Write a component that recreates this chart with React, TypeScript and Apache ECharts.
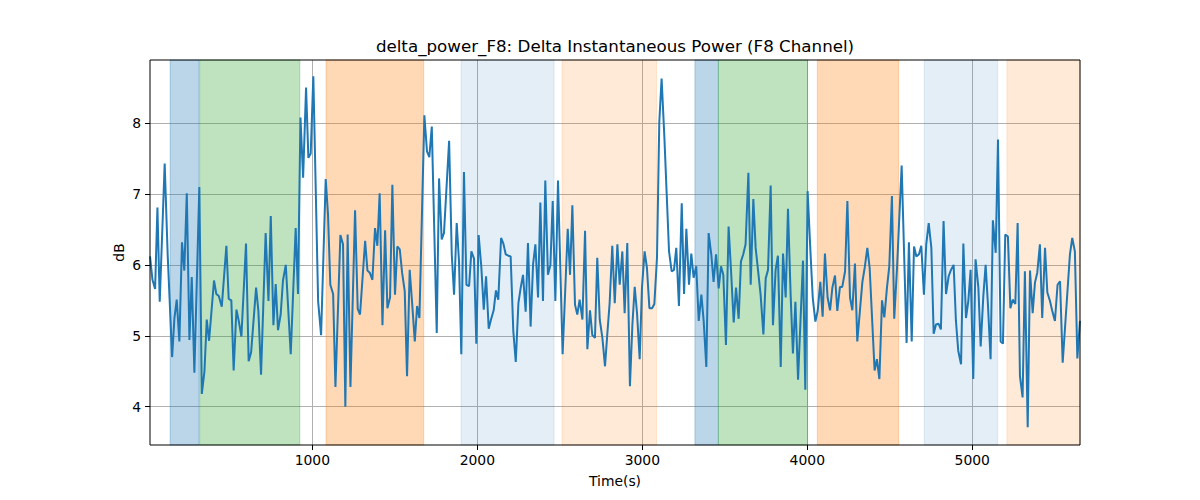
import React, { useEffect, useRef } from "react";
import * as echarts from "echarts";

const times = [
  16, 31, 47, 61, 75, 105, 123, 150, 164, 178, 194, 210, 224, 239, 255, 269, 285, 315, 330, 346, 360, 374,
  404, 418, 433, 451, 479, 493, 509, 523, 540, 554, 570, 598, 614, 629, 659, 673, 689, 717, 734, 748, 764,
  778, 792, 808, 822, 839, 869, 899, 913, 928, 944, 962, 976, 990, 1006, 1035, 1053, 1081, 1095, 1109, 1126,
  1140, 1170, 1186, 1200, 1214, 1231, 1259, 1275, 1289, 1320, 1334, 1348, 1364, 1380, 1394, 1408, 1425, 1441,
  1455, 1471, 1485, 1501, 1515, 1530, 1544, 1560, 1574, 1590, 1604, 1621, 1635, 1649, 1679, 1695, 1709, 1724,
  1754, 1768, 1784, 1798, 1829, 1845, 1859, 1875, 1889, 1903, 1919, 1934, 1950, 1964, 1980, 1994, 2008, 2024,
  2039, 2053, 2069, 2083, 2099, 2113, 2127, 2144, 2158, 2172, 2188, 2202, 2218, 2233, 2249, 2263, 2277, 2293,
  2307, 2323, 2338, 2352, 2368, 2382, 2398, 2412, 2428, 2443, 2457, 2473, 2489, 2503, 2517, 2548, 2562, 2576,
  2592, 2606, 2620, 2637, 2653, 2667, 2683, 2697, 2713, 2727, 2742, 2758, 2774, 2788, 2802, 2818, 2833, 2849,
  2863, 2879, 2893, 2909, 2925, 2940, 2954, 2968, 2984, 2998, 3014, 3028, 3043, 3059, 3073, 3089, 3103, 3117,
  3134, 3148, 3162, 3178, 3192, 3206, 3222, 3239, 3253, 3267, 3283, 3297, 3311, 3327, 3342, 3358, 3372, 3388,
  3402, 3418, 3432, 3447, 3463, 3477, 3491, 3507, 3523, 3538, 3554, 3568, 3584, 3598, 3612, 3626, 3643, 3657,
  3673, 3687, 3703, 3717, 3734, 3748, 3762, 3778, 3792, 3808, 3822, 3839, 3853, 3869, 3883, 3899, 3913, 3928,
  3944, 3974, 3988, 4002, 4018, 4033, 4049, 4063, 4079, 4093, 4107, 4123, 4138, 4152, 4168, 4182, 4198, 4212,
  4229, 4243, 4259, 4273, 4289, 4303, 4317, 4334, 4348, 4364, 4378, 4408, 4422, 4437, 4453, 4467, 4483, 4497,
  4513, 4527, 4544, 4572, 4602, 4616, 4633, 4647, 4661, 4677, 4691, 4707, 4721, 4736, 4752, 4766, 4780, 4796,
  4810, 4826, 4841, 4857, 4871, 4887, 4901, 4915, 4932, 4946, 4962, 4976, 4990, 5006, 5020, 5037, 5051, 5067,
  5081, 5095, 5111, 5125, 5142, 5156, 5172, 5186, 5200, 5216, 5231, 5245, 5261, 5275, 5289, 5305, 5319, 5336,
  5350, 5366, 5380, 5394, 5410, 5424, 5441, 5455, 5471, 5485, 5501, 5517, 5532, 5548, 5592, 5606, 5622, 5637,
  5653,
];

const values = [
  6.12, 5.79, 5.66, 6.81, 5.48, 7.43, 6.15, 4.7, 5.25, 5.51, 4.92, 6.32, 5.92, 7.01, 4.94, 5.83, 4.48, 7.1, 4.18,
  4.5, 5.23, 4.93, 5.78, 5.59, 5.56, 5.41, 6.27, 5.52, 5.5, 4.51, 5.37, 5.21, 4.99, 6.3, 4.64, 4.77, 5.68, 5.35,
  4.45, 6.45, 5.49, 6.69, 5.15, 5.73, 5.08, 5.3, 5.78, 6.0, 4.74, 6.52, 5.59, 8.08, 7.23, 8.5, 7.51, 7.57, 8.66,
  5.49, 5.01, 7.21, 6.71, 5.72, 5.59, 4.28, 6.42, 6.29, 4.0, 6.43, 4.28, 6.77, 5.38, 5.3, 6.34, 5.92, 5.89, 5.79,
  6.52, 6.27, 7.01, 5.15, 6.49, 5.39, 5.54, 7.13, 5.58, 6.26, 6.22, 5.89, 5.63, 4.43, 5.93, 5.49, 4.92, 5.42,
  5.25, 8.11, 7.6, 7.52, 7.95, 5.04, 7.22, 6.36, 6.45, 7.75, 6.15, 5.58, 6.59, 6.05, 4.74, 7.31, 5.72, 5.7, 6.19,
  6.09, 4.89, 6.42, 5.98, 5.37, 5.84, 5.1, 5.23, 5.36, 5.64, 5.51, 6.38, 6.3, 6.15, 6.13, 6.12, 5.07, 4.63, 5.46,
  5.68, 5.86, 5.34, 6.31, 5.13, 6.01, 6.29, 5.54, 6.88, 5.49, 7.19, 5.86, 6.0, 6.9, 5.49, 7.19, 5.96, 4.74, 6.51,
  5.86, 6.84, 5.44, 5.3, 5.51, 5.23, 6.48, 4.81, 5.36, 5.01, 4.97, 6.1, 5.23, 4.97, 4.57, 5.03, 5.46, 6.27, 5.46,
  6.29, 5.72, 6.19, 5.32, 6.31, 4.29, 5.16, 5.69, 5.32, 4.67, 5.68, 6.19, 5.96, 5.39, 5.39, 5.45, 6.1, 8.02, 8.63,
  7.79, 6.99, 6.19, 5.91, 5.93, 6.24, 5.42, 6.87, 5.59, 6.51, 5.72, 6.16, 5.82, 5.98, 5.21, 5.58, 5.21, 4.56,
  6.45, 6.15, 5.76, 6.15, 5.67, 5.98, 5.86, 4.87, 6.54, 5.91, 5.19, 5.68, 5.24, 6.05, 6.15, 6.29, 7.3, 5.72, 6.93,
  6.24, 5.89, 5.58, 5.02, 5.81, 5.93, 7.12, 5.15, 5.93, 6.13, 4.56, 6.16, 5.54, 6.79, 5.58, 4.75, 5.48, 4.38,
  6.06, 4.24, 7.04, 6.24, 5.54, 5.2, 5.35, 5.76, 5.27, 6.16, 5.54, 5.36, 5.68, 5.85, 5.35, 5.69, 5.69, 5.91, 6.9,
  5.54, 5.36, 6.02, 4.92, 5.3, 5.76, 5.96, 6.24, 5.96, 4.51, 4.67, 4.39, 5.5, 5.26, 5.68, 5.98, 6.97, 5.24, 5.96,
  7.4, 4.9, 6.32, 4.92, 6.26, 6.12, 6.15, 6.27, 5.58, 6.29, 6.59, 6.24, 5.03, 5.16, 5.17, 5.09, 6.62, 5.59, 5.84,
  5.93, 6.0, 5.21, 4.79, 4.6, 6.3, 5.25, 5.49, 5.93, 4.39, 6.08, 5.68, 4.85, 5.56, 6.0, 5.44, 4.67, 6.63, 6.17,
  7.77, 4.92, 4.89, 6.43, 6.4, 5.39, 5.51, 5.45, 6.59, 4.43, 4.13, 5.91, 3.71, 5.92, 5.32, 5.75, 5.89, 6.29, 5.25,
  6.24, 5.61, 5.49, 5.35, 5.21, 5.72, 5.77, 4.62, 6.15, 6.38, 6.19, 4.68, 5.21,
];

const spanStarts = [138, 317, 1083, 1901, 2514, 3319, 3461, 4061, 4709, 5210];
const spanEnds = [313, 924, 1675, 2465, 3087, 3461, 4002, 4554, 5154, 5653];
const spanKinds = ["blue", "green", "orange", "paleBlue", "paleOrange", "blue", "green", "orange", "paleBlue", "paleOrange"];

const xTicks = [1000, 2000, 3000, 4000, 5000];
const yTicks = [4, 5, 6, 7, 8];

const X_MIN = 16;
const X_MAX = 5653;
const Y_MIN = 3.46;
const Y_MAX = 8.89;

const TITLE = "delta_power_F8: Delta Instantaneous Power (F8 Channel)";
const X_NAME = "Time(s)";
const Y_NAME = "dB";

const kindColor: Record<string, string> = {
  blue: "rgba(31,119,180,0.3)",
  green: "rgba(44,160,44,0.3)",
  orange: "rgba(255,127,14,0.3)",
  paleBlue: "rgba(31,119,180,0.12)",
  paleOrange: "rgba(255,127,14,0.16)",
};

const FONT = "DejaVu Sans";

export default function App() {
  const ref = useRef<HTMLDivElement>(null);
  useEffect(() => {
    if (!ref.current) return;
    const chart = echarts.init(ref.current, null, { renderer: "svg" });
    const L = 150, T = 60, W = 930, H = 385;
    const lineData = times.map((t, i) => [t, values[i]]);
    const areas = spanStarts.map((s, i) => [
      {
        xAxis: s,
        itemStyle: { color: kindColor[spanKinds[i]], borderColor: kindColor[spanKinds[i]], borderWidth: 1 },
      },
      { xAxis: spanEnds[i] },
    ]);
    chart.setOption({
      animation: false,
      grid: { left: L, top: T, width: W, height: H, show: false },
      xAxis: {
        type: "value",
        min: X_MIN,
        max: X_MAX,
        splitNumber: 5,
        axisLine: { show: false },
        axisTick: { show: true, customValues: xTicks, length: 5, lineStyle: { color: "#000", width: 1 } },
        axisLabel: {
          customValues: xTicks,
          formatter: (v: number) => String(v),
          color: "#000",
          fontFamily: FONT,
          fontSize: 13.9,
          margin: 8,
        },
        splitLine: { show: true, lineStyle: { color: "#b0b0b0", width: 1 } },
      },
      yAxis: {
        type: "value",
        min: Y_MIN,
        max: Y_MAX,
        splitNumber: 5,
        axisLine: { show: false },
        axisTick: { show: true, customValues: yTicks, length: 5, lineStyle: { color: "#000", width: 1 } },
        axisLabel: {
          customValues: yTicks,
          formatter: (v: number) => String(v),
          color: "#000",
          fontFamily: FONT,
          fontSize: 13.9,
          margin: 9,
        },
        splitLine: { show: true, lineStyle: { color: "#b0b0b0", width: 1 } },
      },
      series: [
        {
          type: "line",
          data: [],
          z: 1,
          silent: true,
          markArea: { silent: true, data: areas },
        },
        {
          type: "line",
          data: lineData,
          z: 3,
          showSymbol: false,
          symbol: "none",
          lineStyle: { color: "#1f77b4", width: 2 },
          itemStyle: { color: "#1f77b4" },
        },
      ],
      graphic: [
        {
          type: "rect",
          shape: { x: L, y: T, width: W, height: H },
          style: { fill: "none", stroke: "#000", lineWidth: 1 },
          z: 100,
          silent: true,
        },
        {
          type: "text",
          x: L + W / 2,
          y: 46,
          style: { text: TITLE, fontFamily: FONT, fontSize: 16.7, fill: "#000", align: "center", verticalAlign: "middle" },
          z: 100,
        },
        {
          type: "text",
          x: L + W / 2,
          y: 481,
          style: { text: X_NAME, fontFamily: FONT, fontSize: 13.9, fill: "#000", align: "center", verticalAlign: "middle" },
          z: 100,
        },
        {
          type: "text",
          x: 119,
          y: T + H / 2,
          rotation: Math.PI / 2,
          style: { text: Y_NAME, fontFamily: FONT, fontSize: 13.9, fill: "#000", align: "center", verticalAlign: "middle" },
          z: 100,
        },
      ],
    });
    return () => chart.dispose();
  }, []);
  return (
    <div
      ref={ref}
      style={{ position: "fixed", left: 0, top: 0, width: 1200, height: 500, background: "#fff" }}
    />
  );
}
